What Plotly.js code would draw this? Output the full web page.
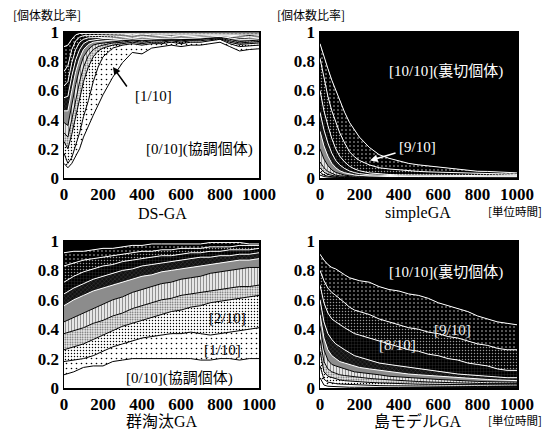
<!DOCTYPE html>
<html><head><meta charset="utf-8">
<script src="https://cdn.plot.ly/plotly-3.0.1.min.js"></script>
<style>html,body{margin:0;padding:0;background:#fff}</style>
</head><body><div id="chart" style="width:557px;height:432px"></div>
<script>
// class labels: fraction of defecting genes, bottom (0/10) to top (10/10)
const classes = ['0/10','1/10','2/10','3/10','4/10','5/10','6/10','7/10','8/10','9/10','10/10'];

// time axis (unit time)
const tX = [0,20,40,60,80,100,125,150,175,200,250,300,350,400,450,500,550,600,650,700,750,800,850,900,950,1000];
const gsX = [0,50,100,150,200,250,300,350,400,450,500,550,600,650,700,750,800,850,900,950,1000];

// cumulative ratio (upper edge of classes 0/10 .. 9/10)
// DS-GA
const dsBounds = [
 [0.10,0.07,0.10,0.15,0.20,0.28,0.36,0.43,0.50,0.57,0.69,0.79,0.86,0.85,0.89,0.90,0.91,0.90,0.91,0.91,0.92,0.93,0.90,0.87,0.88,0.885],
 [0.17,0.10,0.14,0.22,0.31,0.42,0.53,0.66,0.76,0.83,0.89,0.91,0.92,0.91,0.92,0.92,0.93,0.92,0.93,0.93,0.94,0.95,0.92,0.90,0.905,0.91],
 [0.25,0.20,0.30,0.42,0.55,0.66,0.76,0.83,0.87,0.89,0.91,0.92,0.93,0.92,0.93,0.93,0.94,0.93,0.94,0.94,0.95,0.955,0.93,0.915,0.92,0.925],
 [0.31,0.28,0.40,0.54,0.66,0.76,0.84,0.88,0.90,0.91,0.925,0.93,0.94,0.93,0.94,0.94,0.945,0.94,0.945,0.945,0.955,0.96,0.94,0.925,0.93,0.935],
 [0.38,0.36,0.50,0.64,0.75,0.83,0.88,0.91,0.92,0.925,0.935,0.94,0.945,0.94,0.945,0.945,0.95,0.945,0.95,0.95,0.96,0.965,0.95,0.935,0.94,0.945],
 [0.46,0.46,0.60,0.73,0.82,0.88,0.915,0.93,0.935,0.94,0.945,0.95,0.955,0.95,0.955,0.955,0.96,0.955,0.96,0.96,0.965,0.97,0.96,0.95,0.95,0.955],
 [0.55,0.56,0.70,0.81,0.88,0.92,0.94,0.945,0.95,0.955,0.955,0.96,0.965,0.96,0.965,0.965,0.97,0.965,0.97,0.97,0.975,0.975,0.97,0.96,0.96,0.965],
 [0.63,0.66,0.79,0.88,0.93,0.95,0.96,0.96,0.965,0.965,0.965,0.97,0.975,0.97,0.975,0.975,0.98,0.975,0.98,0.98,0.98,0.98,0.98,0.975,0.97,0.975],
 [0.73,0.77,0.88,0.94,0.965,0.975,0.975,0.975,0.98,0.98,0.975,0.98,0.985,0.98,0.985,0.985,0.985,0.985,0.99,0.99,0.99,0.99,0.99,0.985,0.985,0.985],
 [0.90,0.91,0.95,0.98,0.99,0.99,0.99,0.99,0.99,0.995,0.99,0.99,0.995,0.99,0.995,0.995,0.995,0.995,0.995,0.995,0.995,0.995,0.995,0.995,0.995,0.995]
];
// simpleGA
const sgBounds = [
 [0.02,0.01,0.006,0.004,0.003,0.002,0.002,0.001,0.001,0.001,0.001,0.001,0.001,0.001,0.001,0.001,0.001,0.001,0.001,0.001,0.001,0.001,0.001,0.001,0.001,0.001],
 [0.04,0.02,0.012,0.008,0.005,0.004,0.003,0.002,0.002,0.002,0.002,0.002,0.002,0.002,0.002,0.002,0.002,0.002,0.002,0.002,0.002,0.002,0.002,0.002,0.002,0.002],
 [0.07,0.04,0.025,0.016,0.011,0.008,0.006,0.004,0.003,0.003,0.003,0.003,0.003,0.003,0.003,0.003,0.003,0.003,0.003,0.003,0.003,0.003,0.003,0.003,0.003,0.003],
 [0.11,0.07,0.045,0.03,0.02,0.015,0.011,0.008,0.006,0.005,0.004,0.004,0.004,0.004,0.004,0.004,0.004,0.004,0.004,0.004,0.004,0.004,0.004,0.004,0.004,0.004],
 [0.20,0.13,0.085,0.055,0.038,0.028,0.02,0.015,0.012,0.01,0.008,0.007,0.006,0.006,0.006,0.006,0.006,0.006,0.006,0.006,0.006,0.006,0.006,0.006,0.006,0.006],
 [0.32,0.22,0.15,0.10,0.07,0.05,0.036,0.027,0.021,0.017,0.013,0.011,0.01,0.01,0.01,0.009,0.009,0.009,0.009,0.009,0.009,0.009,0.009,0.009,0.009,0.009],
 [0.45,0.33,0.24,0.17,0.12,0.09,0.065,0.048,0.037,0.03,0.022,0.018,0.016,0.015,0.014,0.014,0.013,0.013,0.013,0.013,0.013,0.012,0.012,0.012,0.012,0.012],
 [0.60,0.46,0.36,0.27,0.20,0.15,0.11,0.08,0.062,0.05,0.035,0.028,0.024,0.021,0.02,0.019,0.018,0.018,0.017,0.017,0.017,0.016,0.016,0.016,0.016,0.016],
 [0.82,0.68,0.56,0.46,0.38,0.31,0.24,0.18,0.145,0.12,0.09,0.07,0.062,0.055,0.05,0.045,0.042,0.04,0.038,0.035,0.032,0.03,0.029,0.028,0.026,0.025],
 [0.92,0.83,0.75,0.67,0.60,0.53,0.45,0.38,0.33,0.28,0.21,0.16,0.135,0.115,0.10,0.09,0.082,0.075,0.07,0.06,0.052,0.046,0.045,0.04,0.04,0.035]
];
// 群淘汰GA (group selection)
const gsBounds = [
 [0.09,0.11,0.14,0.15,0.15,0.18,0.19,0.20,0.20,0.20,0.20,0.20,0.20,0.20,0.19,0.19,0.20,0.20,0.19,0.20,0.20],
 [0.18,0.19,0.20,0.22,0.25,0.28,0.30,0.32,0.34,0.35,0.36,0.37,0.37,0.38,0.37,0.36,0.37,0.38,0.39,0.40,0.41],
 [0.26,0.28,0.30,0.33,0.36,0.39,0.42,0.44,0.46,0.48,0.50,0.52,0.53,0.55,0.56,0.58,0.59,0.60,0.61,0.62,0.63],
 [0.37,0.39,0.41,0.44,0.46,0.49,0.51,0.54,0.56,0.58,0.60,0.61,0.63,0.64,0.65,0.66,0.67,0.68,0.69,0.69,0.70],
 [0.45,0.48,0.51,0.54,0.57,0.60,0.62,0.65,0.67,0.69,0.71,0.72,0.74,0.75,0.76,0.78,0.79,0.80,0.81,0.82,0.82],
 [0.56,0.60,0.63,0.66,0.68,0.70,0.72,0.74,0.76,0.77,0.79,0.80,0.81,0.82,0.83,0.84,0.85,0.86,0.87,0.87,0.88],
 [0.64,0.68,0.71,0.74,0.76,0.78,0.80,0.81,0.83,0.84,0.85,0.86,0.87,0.88,0.89,0.89,0.90,0.90,0.91,0.91,0.92],
 [0.72,0.76,0.79,0.81,0.83,0.84,0.86,0.87,0.88,0.89,0.90,0.90,0.91,0.92,0.92,0.93,0.93,0.94,0.94,0.94,0.95],
 [0.83,0.85,0.87,0.88,0.89,0.90,0.91,0.92,0.93,0.93,0.94,0.94,0.95,0.95,0.95,0.96,0.96,0.96,0.97,0.97,0.97],
 [0.92,0.93,0.93,0.94,0.95,0.95,0.96,0.97,0.97,0.98,0.98,0.98,0.98,0.98,0.98,0.99,0.99,0.99,0.99,0.98,0.98]
];
// 島モデルGA (island model)
const imBounds = [
 [0.07,0.02,0.012,0.01,0.008,0.007,0.006,0.005,0.005,0.004,0.004,0.003,0.003,0.003,0.003,0.003,0.003,0.003,0.003,0.003,0.003,0.003,0.003,0.003,0.003,0.003],
 [0.15,0.06,0.04,0.033,0.03,0.027,0.025,0.023,0.021,0.02,0.018,0.016,0.015,0.014,0.013,0.012,0.012,0.011,0.011,0.01,0.01,0.01,0.01,0.01,0.01,0.01],
 [0.25,0.11,0.08,0.07,0.06,0.055,0.05,0.047,0.044,0.042,0.038,0.035,0.032,0.03,0.028,0.026,0.025,0.024,0.023,0.022,0.021,0.02,0.02,0.02,0.02,0.02],
 [0.33,0.18,0.13,0.11,0.10,0.09,0.085,0.08,0.075,0.07,0.065,0.06,0.055,0.05,0.047,0.044,0.041,0.038,0.036,0.034,0.032,0.031,0.03,0.03,0.03,0.03],
 [0.42,0.26,0.19,0.16,0.15,0.14,0.13,0.12,0.11,0.105,0.095,0.09,0.08,0.075,0.07,0.066,0.062,0.058,0.055,0.05,0.047,0.045,0.043,0.041,0.04,0.04],
 [0.50,0.34,0.26,0.22,0.20,0.18,0.17,0.16,0.15,0.14,0.13,0.12,0.11,0.10,0.095,0.09,0.085,0.08,0.075,0.07,0.065,0.06,0.058,0.055,0.052,0.05],
 [0.60,0.45,0.37,0.33,0.30,0.28,0.26,0.24,0.22,0.21,0.19,0.17,0.16,0.15,0.14,0.13,0.12,0.11,0.10,0.095,0.09,0.085,0.08,0.075,0.07,0.07],
 [0.70,0.58,0.51,0.47,0.45,0.43,0.41,0.39,0.37,0.36,0.34,0.32,0.30,0.28,0.26,0.25,0.23,0.22,0.20,0.19,0.17,0.16,0.15,0.13,0.12,0.12],
 [0.80,0.73,0.68,0.65,0.63,0.61,0.58,0.55,0.53,0.52,0.50,0.47,0.45,0.43,0.41,0.40,0.38,0.37,0.35,0.34,0.32,0.30,0.29,0.27,0.26,0.26],
 [0.91,0.87,0.84,0.82,0.81,0.79,0.77,0.75,0.74,0.73,0.72,0.69,0.67,0.66,0.64,0.63,0.61,0.58,0.56,0.54,0.52,0.49,0.47,0.45,0.44,0.43]
];

const xTicks = [0,200,400,600,800,1000];
const yTicks = [0,0.2,0.4,0.6,0.8,1];
const yTickText = ['0','0.2','0.4','0.6','0.8','1'];

// fill styles per class (0/10 .. 10/10)
const styles = [
 {color:'#ffffff'},
 {color:'#ffffff', pattern:{shape:'.', bgcolor:'#ffffff', fgcolor:'#000000', size:5, solidity:0.08}},
 {color:'#ffffff', pattern:{shape:'.', bgcolor:'#ffffff', fgcolor:'#000000', size:3, solidity:0.18}},
 {color:'#e6e6e6', pattern:{shape:'.', bgcolor:'#eeeeee', fgcolor:'#555555', size:2.5, solidity:0.3}},
 {color:'#dddddd', pattern:{shape:'|', bgcolor:'#e6e6e6', fgcolor:'#888888', size:3, solidity:0.3}},
 {color:'#8c8c8c'},
 {color:'#1a1a1a', pattern:{shape:'x', bgcolor:'#111111', fgcolor:'#555555', size:3, solidity:0.2}},
 {color:'#000000', pattern:{shape:'+', bgcolor:'#000000', fgcolor:'#555555', size:3, solidity:0.15}},
 {color:'#000000', pattern:{shape:'.', bgcolor:'#000000', fgcolor:'#999999', size:3, solidity:0.2}},
 {color:'#000000', pattern:{shape:'.', bgcolor:'#000000', fgcolor:'#cccccc', size:4, solidity:0.12}},
 {color:'#000000'}
];

const traces = [];
function addPanel(xs, bounds, xa, ya) {
  const all = bounds.concat([xs.map(() => 1)]);
  all.forEach((ys, k) => {
    const st = styles[k];
    const tr = {
      x: xs, y: ys, xaxis: xa, yaxis: ya, type: 'scatter', mode: 'lines',
      name: classes[k],
      line: {color: k >= 10 ? '#000000' : (k >= 5 ? '#ffffff' : '#000000'), width: 1},
      fill: k === 0 ? 'tozeroy' : 'tonexty',
      fillcolor: st.color,
      hoverinfo: 'skip', showlegend: false
    };
    if (st.pattern) tr.fillpattern = st.pattern;
    traces.push(tr);
  });
}
addPanel(tX, dsBounds, 'x', 'y');
addPanel(tX, sgBounds, 'x2', 'y2');
addPanel(gsX, gsBounds, 'x3', 'y3');
addPanel(tX, imBounds, 'x4', 'y4');

const W = 557, H = 432;
const px = v => v / W, py = v => 1 - v / H;
const tickFont = {family: 'Liberation Serif, serif', size: 17, color: '#000'};
function xax(d, anchor) {
  return {domain: d, anchor: anchor, range: [0, 1000], showline: true, mirror: true, linecolor: '#000', linewidth: 1.5,
    showgrid: false, zeroline: false, ticks: '', tickvals: xTicks, ticktext: xTicks.map(v => '<b>' + v + '</b>'), tickfont: tickFont, fixedrange: true};
}
function yax(d, anchor) {
  return {domain: d, anchor: anchor, range: [0, 1], showline: true, mirror: true, linecolor: '#000', linewidth: 1.5,
    showgrid: false, zeroline: false, ticks: '', tickvals: yTicks, ticktext: yTickText.map(v => '<b>' + v + '</b>'), tickfont: tickFont, fixedrange: true};
}
const xdL = [px(64), px(259)], xdR = [px(320), px(517)];
const ydT = [py(178), py(32)], ydB = [py(388), py(241)];

const jp = 'Liberation Serif, Noto Sans CJK JP, serif';
const gothic = 'Noto Sans CJK JP, sans-serif';
function txt(x, y, text, size, color, family) {
  return {xref: 'paper', yref: 'paper', x: px(x), y: py(y), text: text, showarrow: false,
    font: {family: family || jp, size: size, color: color || '#000'}, xanchor: 'center', yanchor: 'middle'};
}
const annotations = [
  txt(47, 14, '[個体数比率]', 12, '#000', gothic),
  txt(311, 14, '[個体数比率]', 12, '#000', gothic),
  txt(515, 211, '[単位時間]', 11.5, '#000', gothic),
  txt(515, 420, '[単位時間]', 11.5, '#000', gothic),
  txt(162, 213, 'DS-GA', 16, '#000', 'Liberation Serif, serif'),
  txt(418, 213, 'simpleGA', 16, '#000', 'Liberation Serif, serif'),
  txt(162, 421, '群淘汰GA', 16),
  txt(418, 421, '島モデルGA', 16),
  txt(153, 96, '[1/10]', 15),
  txt(199, 149, '[0/10](協調個体)', 15),
  txt(446, 71, '[10/10](裏切個体)', 15, '#ffffff'),
  txt(417, 147, '[9/10]', 15, '#ffffff'),
  txt(227, 318, '[2/10]', 15),
  txt(222, 350, '[1/10]', 15),
  txt(179, 378, '[0/10](協調個体)', 15),
  txt(446, 272, '[10/10](裏切個体)', 15, '#ffffff'),
  txt(452, 330, '[9/10]', 15, '#eeeeee'),
  txt(397, 345, '[8/10]', 15, '#eeeeee'),
  {xref: 'x', yref: 'y', x: 251, y: 0.76, ax: 15, ay: 21, text: '', showarrow: true, arrowhead: 2, arrowsize: 1, arrowwidth: 1.5, arrowcolor: '#000'},
  {xref: 'x2', yref: 'y2', x: 254, y: 0.12, ax: 27, ay: -8, text: '', showarrow: true, arrowhead: 2, arrowsize: 1, arrowwidth: 1.5, arrowcolor: '#ffffff'}
];

const layout = {
  width: W, height: H, margin: {l: 0, r: 0, t: 0, b: 0},
  paper_bgcolor: '#ffffff', plot_bgcolor: '#ffffff', showlegend: false,
  xaxis: xax(xdL, 'y'), yaxis: yax(ydT, 'x'),
  xaxis2: xax(xdR, 'y2'), yaxis2: yax(ydT, 'x2'),
  xaxis3: xax(xdL, 'y3'), yaxis3: yax(ydB, 'x3'),
  xaxis4: xax(xdR, 'y4'), yaxis4: yax(ydB, 'x4'),
  annotations: annotations
};
Plotly.newPlot('chart', traces, layout, {displayModeBar: false, staticPlot: true});
</script></body></html>
